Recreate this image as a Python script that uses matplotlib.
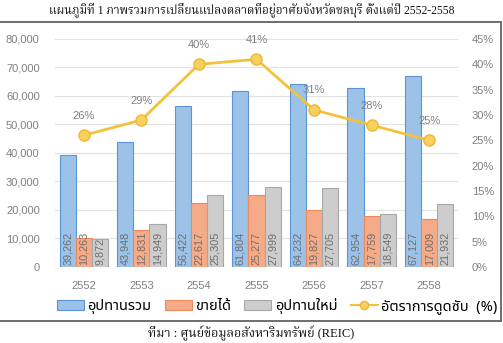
import matplotlib
matplotlib.use("Agg")
import matplotlib.pyplot as plt
import numpy as np
from matplotlib.lines import Line2D
from matplotlib.patches import Patch, Rectangle

years = ["2552", "2553", "2554", "2555", "2556", "2557", "2558"]
total_supply = [39262, 43948, 56422, 61804, 64232, 62954, 67127]
units_sold = [10263, 12831, 22617, 25277, 19827, 17759, 17009]
new_supply = [9872, 14949, 25305, 27999, 27705, 18549, 21932]
absorption_pct = [26, 29, 40, 41, 31, 28, 25]

series_names = ["อุปทานรวม", "ขายได้", "อุปทานใหม่", "อัตราการดูดซับ  (%)"]
title = "แผนภูมิที่ 1 ภาพรวมการเปลี่ยนแปลงตลาดที่อยู่อาศัยจังหวัดชลบุรี ตั้งแต่ปี 2552-2558"
source = "ที่มา : ศูนย์ข้อมูลอสังหาริมทรัพย์ (REIC)"

LATIN = ["Liberation Sans", "Noto Sans Thai"]
SERIF = ["Liberation Serif", "Noto Serif Thai"]
THAI_UI = ["Noto Sans Thai", "Liberation Sans"]

blue_face, blue_edge = "#9CC2E8", "#5B93D3"
orange_face, orange_edge = "#F5AA88", "#EC8A5E"
gray_face, gray_edge = "#CDCDCD", "#A8A8A8"
line_col = "#F3C23C"
tick_col = "#808080"
label_col = "#6E6E6E"

fig = plt.figure(figsize=(5.03, 3.43), dpi=100)
ax = fig.add_axes([0.1093, 0.2216, 0.8012, 0.6647])
ax2 = ax.twinx()

x = np.arange(len(years))
w = 0.28
groups = [
    (total_supply, -w, blue_face, blue_edge),
    (units_sold, 0.0, orange_face, orange_edge),
    (new_supply, w, gray_face, gray_edge),
]
for vals, off, fc, ec in groups:
    bars = ax.bar(x + off, vals, width=w, color=fc, edgecolor=ec, linewidth=0.8, zorder=2)
    for b, v in zip(bars, vals):
        ax.text(b.get_x() + b.get_width() / 2, 700, f"{v:,}", rotation=90,
                ha="center", va="bottom", fontsize=7.8, color=label_col,
                family=LATIN, zorder=3)

ax.set_xlim(-0.5, len(years) - 0.5)
ax.set_ylim(0, 80000)
ax.set_yticks(np.arange(0, 80001, 10000))
ax.set_yticklabels([f"{v:,}" for v in range(0, 80001, 10000)])
ax.set_xticks(x)
ax.set_xticklabels(years)
ax.grid(axis="y", color="#E2E2E2", linewidth=0.8, zorder=0)
ax.set_axisbelow(True)
ax.tick_params(axis="y", length=0, pad=11, labelsize=8, labelcolor=tick_col)
ax.tick_params(axis="x", length=0, pad=10, labelsize=8, labelcolor=tick_col)
for lab in ax.get_xticklabels() + ax.get_yticklabels():
    lab.set_family(LATIN)

pct = np.array(absorption_pct) / 100.0
ax2.plot(x, pct, color=line_col, linewidth=2, marker="o", markersize=8,
         markerfacecolor="#F8D060", markeredgecolor="#EDB92E", zorder=5)
for xi, p, v in zip(x, pct, absorption_pct):
    ax2.annotate(f"{v}%", (xi, p), xytext=(0, 14), textcoords="offset points",
                 ha="center", va="center", fontsize=8, color=tick_col, family=LATIN)
ax2.set_ylim(0, 0.45)
ax2.set_yticks(np.arange(0, 0.451, 0.05))
ax2.set_yticklabels([f"{int(round(t * 100))}%" for t in np.arange(0, 0.451, 0.05)])
ax2.tick_params(axis="y", length=0, pad=10, labelsize=8, labelcolor=tick_col)
for lab in ax2.get_yticklabels():
    lab.set_family(LATIN)

for a in (ax, ax2):
    for s in a.spines.values():
        s.set_visible(False)

handles = [
    Patch(facecolor=blue_face, edgecolor=blue_edge, linewidth=0.8),
    Patch(facecolor=orange_face, edgecolor=orange_edge, linewidth=0.8),
    Patch(facecolor=gray_face, edgecolor=gray_edge, linewidth=0.8),
    Line2D([], [], color=line_col, linewidth=1.5, marker="o", markersize=6,
           markerfacecolor="#F8D060", markeredgecolor="#EDB92E"),
]
fig.legend(handles, series_names, loc="center", bbox_to_anchor=(0.551, 0.108),
           ncol=4, frameon=False, handlelength=1.85, handleheight=0.7,
           handletextpad=0.25, columnspacing=0.9, borderaxespad=0,
           prop={"family": THAI_UI, "weight": "bold", "size": 10.5})

# frame around the chart block (left edge sits just off the canvas)
fig.add_artist(Rectangle((-0.01, 1 - 321 / 343), 501 / 503 + 0.01, (321 - 22) / 343,
                         transform=fig.transFigure, fill=False,
                         edgecolor="#6E6E6E", linewidth=1.4))

fig.text(0.5, 1 - 11 / 343, title, ha="center", va="center", fontsize=8.4,
         family=SERIF, color="#111111")
fig.text(0.5, 1 - 333 / 343, source, ha="center", va="center", fontsize=9,
         family=SERIF, color="#111111")

fig.savefig("out.png", dpi=100)
